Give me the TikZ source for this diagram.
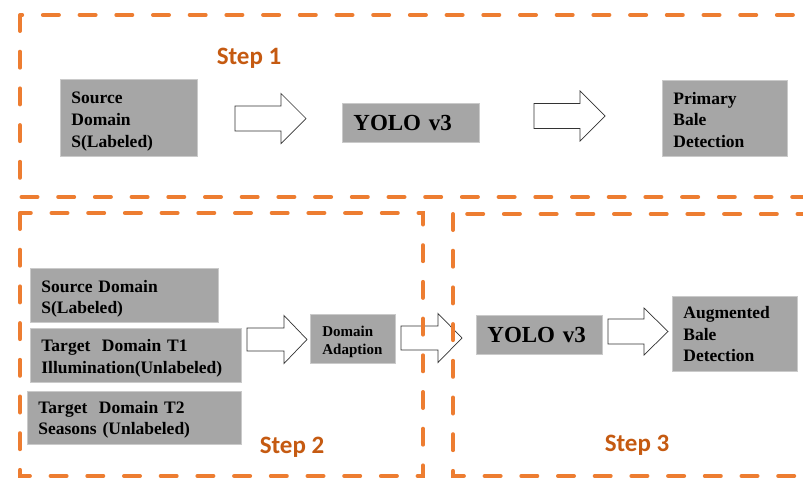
\documentclass[tikz,border=0pt]{standalone}
\usepackage{fontspec}
\setmainfont{Liberation Serif}
\newfontfamily\stepfont{Carlito}
\definecolor{frameor}{HTML}{ED7D31}
\definecolor{steplab}{HTML}{C55A11}
\definecolor{boxgray}{HTML}{A6A6A6}
\definecolor{boxedge}{HTML}{CACACA}
% block arrow: #1 name, #2 tail x, #3 tip x, #4 centre y, #5 shaft half height, #6 head half height, #7 head length
\newcommand\BlockArrow[7]{%
  \coordinate (#1-tail) at (#2,#4);
  \coordinate (#1-tip) at (#3,#4);
  \draw[barrowline] (#2,#4-#5) -- (#3-#7,#4-#5) -- (#3-#7,#4-#6) -- (#1-tip)
    -- (#3-#7,#4+#6) -- (#3-#7,#4+#5) -- (#2,#4+#5) -- cycle;}
\begin{document}
\begin{tikzpicture}[x=1pt,y=-1pt,
  gbox/.style={fill=boxgray,draw=boxedge,line width=0.8pt,anchor=north west,align=left,
    inner xsep=11pt,inner ysep=0pt,font=\bfseries\fontsize{17.5}{21.7}\selectfont},
  lower/.style={execute at begin node={\rule{0pt}{#1}}},
  bigtext/.style={font=\bfseries\fontsize{23}{27}\selectfont},
  smalltext/.style={font=\bfseries\fontsize{15}{18}\selectfont},
  barrowline/.style={draw=black!80,fill=white,line width=0.7pt,line join=miter},
  frame/.style={draw=frameor,line width=4pt,line cap=round,dash pattern=on 16pt off 20.7pt},
  steplabel/.style={font=\stepfont\bfseries\fontsize{25}{30}\selectfont,text=steplab,anchor=base,inner sep=0pt}]
\path[use as bounding box,clip] (0,0) rectangle (803,479);

% Step 1 row
\node[gbox,lower=19pt,minimum width=137pt,minimum height=77pt,text width=115pt] (s1) at (60,79) {Source\\Domain\\S(Labeled)};
\node[gbox,bigtext,minimum width=137pt,minimum height=39pt,text width=115pt] (y1) at (342,103) {YOLO v3};
\node[gbox,lower=15pt,minimum width=125pt,minimum height=76pt,text width=103pt] (p1) at (662,80) {Primary\\Bale\\Detection};
\BlockArrow{a1}{235}{306}{118.5}{12.5}{25}{25}
\BlockArrow{a2}{534}{605}{116}{12.5}{25}{25}

% Step 2 / Step 3 row
\node[gbox,lower=19pt,minimum width=188pt,minimum height=54pt,text width=166pt] (s2) at (30,268) {Source Domain\\S(Labeled)};
\node[gbox,lower=18pt,minimum width=211pt,minimum height=54pt,text width=189pt] (t1) at (30,328) {Target\ \ Domain T1\\Illumination(Unlabeled)};
\node[gbox,lower=16pt,minimum width=214pt,minimum height=53pt,text width=192pt] (t2) at (27,391) {Target\ \ Domain T2\\Seasons (Unlabeled)};
\node[gbox,smalltext,lower=15.5pt,inner xsep=12pt,minimum width=85pt,minimum height=49pt,text width=61pt] (da) at (310,314) {Domain\\Adaption};
\node[gbox,bigtext,minimum width=126pt,minimum height=39pt,text width=104pt] (y2) at (476,315) {YOLO v3};
\node[gbox,lower=12.5pt,minimum width=125pt,minimum height=75pt,text width=103pt] (ab) at (672,296) {Augmented\\Bale\\Detection};
\BlockArrow{a3}{247}{307}{339.5}{11.5}{24}{23}
\BlockArrow{a4}{401}{462}{338}{12}{24.5}{24}
\BlockArrow{a5}{608}{668}{331.5}{12.5}{23.5}{24}

% dashed step frames
\draw[frame] (20,15) rectangle (830,197);
\draw[frame] (20,213) rectangle (423,476);
\draw[frame] (453,214) rectangle (830,476);

% step labels
\node[steplabel] (st1) at (249,64) {Step 1};
\node[steplabel] (st2) at (292,453) {Step 2};
\node[steplabel] (st3) at (637,451) {Step 3};
\end{tikzpicture}
\end{document}
